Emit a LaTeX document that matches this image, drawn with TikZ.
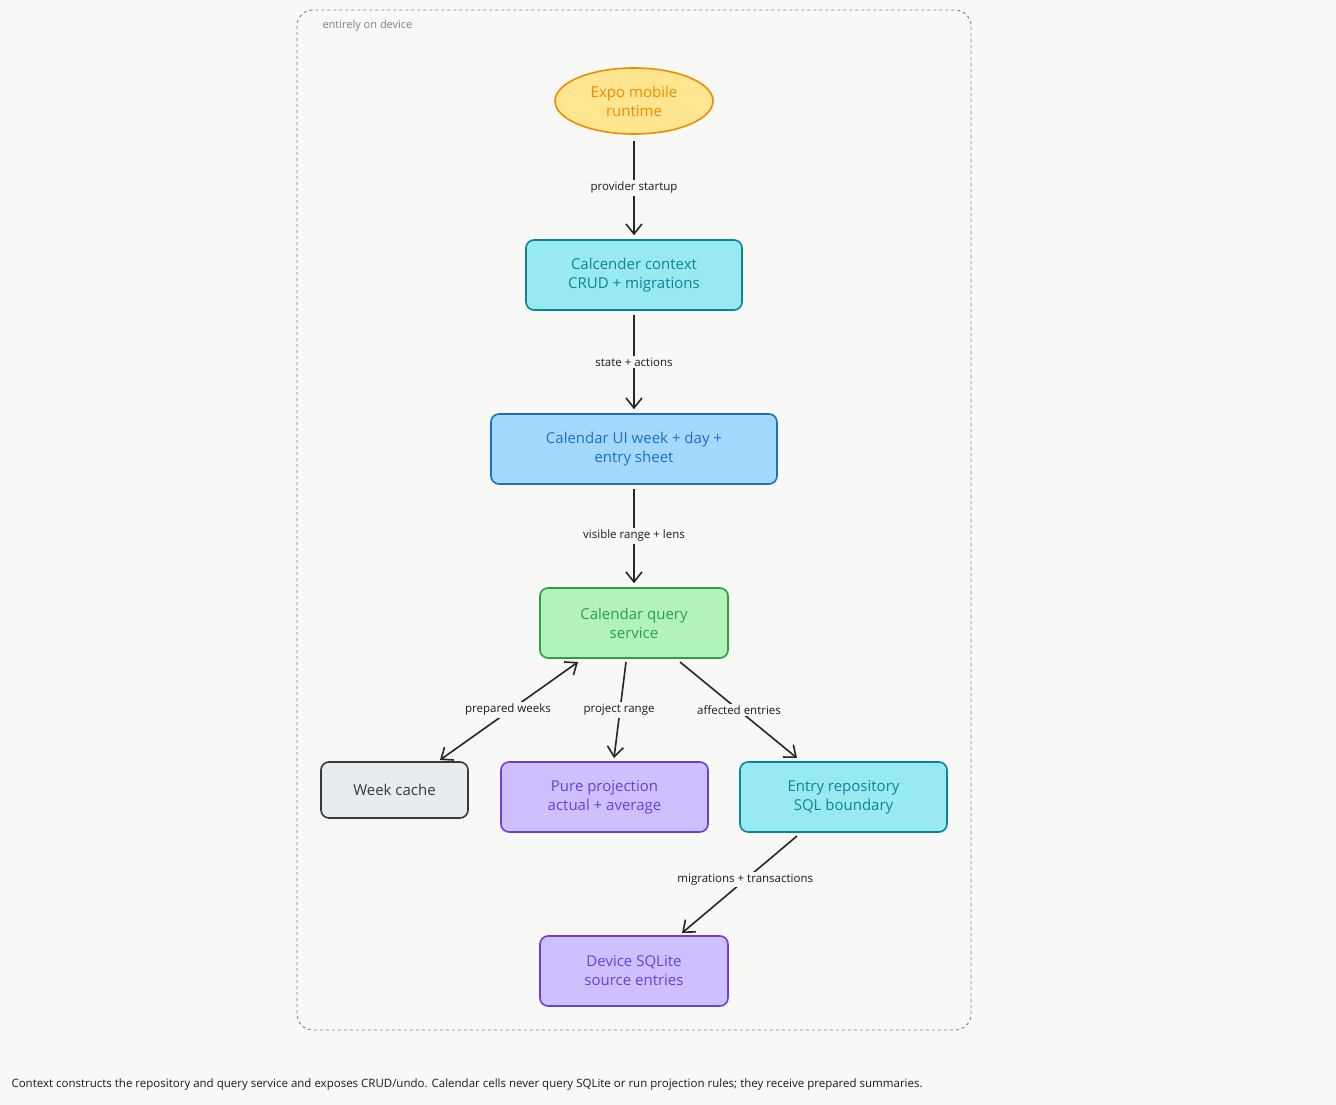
\documentclass[tikz,border=0pt]{standalone}
\usepackage{fontspec}
\setmainfont{Open Sans}
\usetikzlibrary{shapes.geometric,arrows.meta,calc}
\definecolor{bg}{HTML}{F8F9F7}
\definecolor{cyF}{HTML}{99E9F2}\definecolor{cyS}{HTML}{0C8599}
\definecolor{blF}{HTML}{A5D8FF}\definecolor{blS}{HTML}{1971C2}
\definecolor{grF}{HTML}{B2F2BB}\definecolor{grS}{HTML}{2F9E44}
\definecolor{gyF}{HTML}{E9ECEF}\definecolor{gyS}{HTML}{343A40}
\definecolor{puF}{HTML}{D0BFFF}\definecolor{puS}{HTML}{6741D9}
\definecolor{orF}{HTML}{FFE58F}\definecolor{orS}{HTML}{F08C00}
\tikzset{
 box/.style={rounded corners=8pt,line width=1.6pt,align=center,font=\fontsize{15}{19}\selectfont,inner sep=0pt},
 conn/.style={line width=1.6pt,draw=black!85,-{Straight Barb[length=10pt,width=16pt]}},
 lbl/.style={fill=bg,inner sep=2pt,font=\fontsize{11.5}{14}\selectfont,text=black!90}
}
\begin{document}
\begin{tikzpicture}[x=1pt,y=-1pt]
\fill[bg] (0,0) rectangle (1336,1105);
\useasboundingbox (0,0) rectangle (1336,1105);
\draw[dashed,gray,line width=0.9pt,rounded corners=16pt] (297,10) rectangle (971,1030);
\node[anchor=west,text=gray,font=\fontsize{11}{13}\selectfont] (lab) at (319,26) {entirely on device};
\node[ellipse,draw=orS,fill=orF,line width=1.6pt,minimum width=158pt,minimum height=66pt,align=center,text=orS,font=\fontsize{15}{19}\selectfont,inner sep=0pt] (expo) at (634,101) {Expo mobile\\runtime};
\node[box,draw=cyS,fill=cyF,text=cyS,minimum width=216pt,minimum height=70pt] (ctx) at (634,275) {Calcender context\\CRUD + migrations};
\node[box,draw=blS,fill=blF,text=blS,minimum width=286pt,minimum height=70pt] (ui) at (634,449) {Calendar UI week + day +\\entry sheet};
\node[box,draw=grS,fill=grF,text=grS,minimum width=188pt,minimum height=70pt] (qs) at (634,623) {Calendar query\\service};
\node[box,draw=gyS,fill=gyF,text=gyS,minimum width=147pt,minimum height=56pt] (wc) at (394.5,790) {Week cache};
\node[box,draw=puS,fill=puF,text=puS,minimum width=207pt,minimum height=70pt] (pp) at (604.5,797) {Pure projection\\actual + average};
\node[box,draw=cyS,fill=cyF,text=cyS,minimum width=207pt,minimum height=70pt] (er) at (843.5,797) {Entry repository\\SQL boundary};
\node[box,draw=puS,fill=puF,text=puS,minimum width=188pt,minimum height=70pt] (db) at (634,971) {Device SQLite\\source entries};
\draw[conn] ($(expo.south)+(0,6)$) -- ($(ctx.north)+(0,-4)$) node[midway,lbl]{provider startup};
\draw[conn] ($(ctx.south)+(0,4)$) -- ($(ui.north)+(0,-4)$) node[midway,lbl]{state + actions};
\draw[conn] ($(ui.south)+(0,4)$) -- ($(qs.north)+(0,-4)$) node[midway,lbl]{visible range + lens};
\coordinate (q1) at (578,662); \coordinate (q2) at (626,662); \coordinate (q3) at (680,662);
\coordinate (w1) at (440,760); \coordinate (p1) at (614,758); \coordinate (e1) at (797,758);
\coordinate (e2) at (797,836); \coordinate (d1) at (682,933);
\draw[conn,{Straight Barb[length=10pt,width=16pt]}-{Straight Barb[length=10pt,width=16pt]}] (q1) -- (w1);
\draw[conn] (q2) -- (p1);
\draw[conn] (q3) -- (e1);
\draw[conn] (e2) -- (d1) node[pos=0.45,lbl]{migrations + transactions};
\node[lbl] (l1) at (508,710) {prepared weeks};
\node[lbl] (l2) at (619,710) {project range};
\node[lbl] (l3) at (739,710) {affected entries};
\node[anchor=west,font=\fontsize{11.5}{14}\selectfont,text=black!90] (cap) at (8,1085) {Context constructs the repository and query service and exposes CRUD/undo. Calendar cells never query SQLite or run projection rules; they receive prepared summaries.};
\end{tikzpicture}
\end{document}
